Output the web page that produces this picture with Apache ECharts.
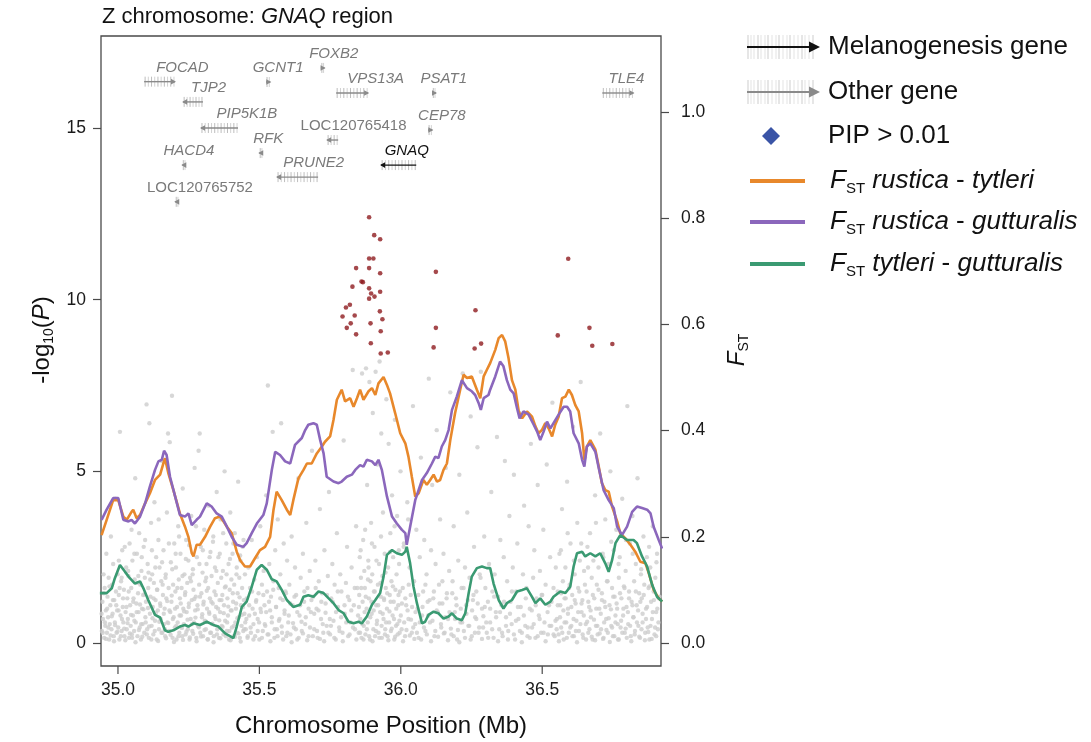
<!DOCTYPE html>
<html><head><meta charset="utf-8">
<script src="https://cdn.jsdelivr.net/npm/echarts@6/dist/echarts.min.js"></script>
<style>html,body{margin:0;padding:0;background:#fff}#c{width:1091px;height:742px}</style>
</head><body><div id="c"></div>
<script>
const FONT = '"Liberation Sans", Arial, Helvetica, sans-serif';
const xTicks = [35.0, 35.5, 36.0, 36.5];
const yLeftTicks = [0, 5, 10, 15];
const yRightTicks = [0, 0.2, 0.4, 0.6, 0.8, 1.0];

const fstRusticaTytleri = [[34.942,0.203],[34.960,0.232],[34.983,0.269],[35.001,0.269],[35.019,0.238],[35.031,0.232],[35.048,0.247],[35.054,0.251],[35.066,0.235],[35.078,0.241],[35.096,0.263],[35.113,0.282],[35.131,0.307],[35.149,0.317],[35.166,0.348],[35.178,0.320],[35.196,0.288],[35.219,0.244],[35.237,0.219],[35.249,0.200],[35.261,0.169],[35.267,0.163],[35.278,0.185],[35.290,0.185],[35.308,0.200],[35.326,0.219],[35.343,0.235],[35.361,0.238],[35.373,0.229],[35.385,0.219],[35.402,0.207],[35.420,0.172],[35.432,0.156],[35.449,0.144],[35.467,0.144],[35.485,0.160],[35.502,0.175],[35.520,0.181],[35.538,0.200],[35.550,0.251],[35.561,0.285],[35.579,0.269],[35.597,0.251],[35.609,0.241],[35.620,0.269],[35.638,0.310],[35.656,0.326],[35.668,0.338],[35.685,0.338],[35.703,0.357],[35.721,0.370],[35.732,0.379],[35.750,0.389],[35.762,0.420],[35.774,0.458],[35.791,0.477],[35.803,0.455],[35.821,0.461],[35.833,0.445],[35.845,0.461],[35.856,0.477],[35.868,0.458],[35.886,0.474],[35.898,0.480],[35.910,0.467],[35.921,0.489],[35.939,0.501],[35.951,0.486],[35.962,0.470],[35.980,0.433],[35.998,0.395],[36.016,0.376],[36.027,0.351],[36.039,0.313],[36.051,0.276],[36.063,0.282],[36.080,0.307],[36.092,0.298],[36.104,0.307],[36.116,0.317],[36.128,0.304],[36.139,0.307],[36.151,0.326],[36.163,0.338],[36.175,0.382],[36.192,0.433],[36.210,0.477],[36.222,0.505],[36.234,0.499],[36.251,0.502],[36.269,0.477],[36.281,0.461],[36.293,0.502],[36.304,0.514],[36.316,0.527],[36.334,0.552],[36.346,0.574],[36.358,0.580],[36.369,0.568],[36.381,0.536],[36.393,0.495],[36.405,0.477],[36.417,0.436],[36.429,0.423],[36.446,0.436],[36.464,0.426],[36.476,0.408],[36.487,0.395],[36.499,0.401],[36.511,0.414],[36.523,0.404],[36.535,0.389],[36.546,0.411],[36.558,0.426],[36.570,0.461],[36.582,0.464],[36.594,0.477],[36.605,0.467],[36.617,0.448],[36.629,0.436],[36.641,0.395],[36.649,0.345],[36.658,0.370],[36.670,0.382],[36.688,0.364],[36.700,0.332],[36.711,0.301],[36.723,0.288],[36.735,0.285],[36.747,0.257],[36.765,0.229],[36.776,0.207],[36.794,0.197],[36.812,0.185],[36.829,0.172],[36.847,0.153],[36.865,0.150],[36.877,0.131],[36.894,0.100],[36.912,0.084],[36.924,0.078]];

const fstRusticaGutturalis = [[34.942,0.232],[34.960,0.251],[34.983,0.273],[35.001,0.273],[35.019,0.232],[35.037,0.229],[35.048,0.232],[35.060,0.225],[35.078,0.238],[35.096,0.263],[35.113,0.295],[35.131,0.326],[35.143,0.342],[35.155,0.345],[35.163,0.362],[35.172,0.354],[35.184,0.313],[35.202,0.276],[35.219,0.241],[35.237,0.238],[35.249,0.244],[35.261,0.222],[35.278,0.232],[35.290,0.238],[35.314,0.263],[35.331,0.257],[35.349,0.244],[35.367,0.238],[35.385,0.219],[35.402,0.200],[35.420,0.185],[35.443,0.181],[35.455,0.188],[35.473,0.207],[35.491,0.225],[35.514,0.241],[35.526,0.263],[35.544,0.326],[35.556,0.360],[35.573,0.354],[35.591,0.342],[35.609,0.338],[35.626,0.373],[35.650,0.386],[35.662,0.401],[35.673,0.411],[35.691,0.414],[35.703,0.411],[35.715,0.382],[35.727,0.357],[35.738,0.313],[35.762,0.304],[35.780,0.301],[35.791,0.304],[35.809,0.313],[35.827,0.317],[35.839,0.326],[35.856,0.335],[35.868,0.332],[35.880,0.345],[35.898,0.342],[35.910,0.335],[35.921,0.345],[35.933,0.326],[35.951,0.276],[35.969,0.238],[35.986,0.225],[36.004,0.213],[36.016,0.207],[36.021,0.185],[36.033,0.219],[36.051,0.269],[36.075,0.307],[36.092,0.320],[36.110,0.338],[36.122,0.351],[36.133,0.348],[36.145,0.370],[36.157,0.382],[36.169,0.401],[36.181,0.439],[36.198,0.464],[36.216,0.495],[36.234,0.480],[36.251,0.474],[36.263,0.467],[36.275,0.452],[36.283,0.439],[36.293,0.461],[36.310,0.467],[36.316,0.477],[36.334,0.502],[36.351,0.530],[36.363,0.521],[36.375,0.495],[36.387,0.477],[36.399,0.470],[36.411,0.442],[36.420,0.423],[36.434,0.436],[36.452,0.430],[36.470,0.411],[36.482,0.398],[36.493,0.382],[36.505,0.398],[36.517,0.417],[36.529,0.404],[36.540,0.414],[36.558,0.430],[36.576,0.445],[36.588,0.445],[36.599,0.436],[36.611,0.395],[36.629,0.376],[36.641,0.345],[36.649,0.332],[36.658,0.370],[36.670,0.376],[36.688,0.360],[36.700,0.329],[36.717,0.288],[36.735,0.269],[36.753,0.254],[36.765,0.219],[36.782,0.203],[36.800,0.219],[36.818,0.247],[36.835,0.257],[36.853,0.254],[36.871,0.251],[36.883,0.244],[36.894,0.219],[36.912,0.194],[36.924,0.178]];

const fstTytleriGutturalis = [[34.936,0.094],[34.960,0.094],[34.978,0.103],[34.989,0.122],[35.007,0.147],[35.025,0.134],[35.042,0.122],[35.060,0.112],[35.078,0.116],[35.090,0.103],[35.107,0.081],[35.131,0.053],[35.149,0.048],[35.166,0.024],[35.178,0.021],[35.196,0.024],[35.219,0.031],[35.237,0.034],[35.249,0.031],[35.267,0.037],[35.290,0.034],[35.314,0.040],[35.337,0.034],[35.355,0.031],[35.379,0.018],[35.396,0.013],[35.408,0.009],[35.420,0.031],[35.438,0.068],[35.455,0.078],[35.473,0.106],[35.491,0.138],[35.508,0.147],[35.526,0.138],[35.544,0.120],[35.561,0.116],[35.579,0.100],[35.597,0.081],[35.620,0.068],[35.644,0.072],[35.656,0.087],[35.673,0.090],[35.691,0.087],[35.709,0.097],[35.727,0.094],[35.745,0.084],[35.762,0.075],[35.780,0.062],[35.798,0.056],[35.815,0.040],[35.833,0.037],[35.851,0.040],[35.862,0.037],[35.880,0.050],[35.898,0.072],[35.910,0.081],[35.927,0.094],[35.939,0.125],[35.951,0.166],[35.969,0.175],[35.986,0.169],[36.004,0.166],[36.016,0.172],[36.021,0.181],[36.033,0.150],[36.045,0.106],[36.057,0.075],[36.075,0.037],[36.086,0.040],[36.098,0.053],[36.116,0.059],[36.133,0.056],[36.151,0.046],[36.169,0.050],[36.181,0.056],[36.198,0.046],[36.216,0.043],[36.228,0.056],[36.240,0.094],[36.251,0.125],[36.269,0.141],[36.287,0.144],[36.304,0.141],[36.316,0.141],[36.328,0.112],[36.346,0.081],[36.363,0.065],[36.375,0.075],[36.393,0.081],[36.411,0.097],[36.429,0.100],[36.446,0.103],[36.464,0.087],[36.476,0.075],[36.493,0.084],[36.511,0.072],[36.529,0.078],[36.540,0.087],[36.564,0.097],[36.582,0.094],[36.599,0.106],[36.611,0.144],[36.623,0.169],[36.641,0.172],[36.652,0.163],[36.670,0.169],[36.688,0.163],[36.705,0.169],[36.723,0.150],[36.735,0.134],[36.747,0.156],[36.759,0.188],[36.776,0.203],[36.800,0.194],[36.823,0.194],[36.835,0.188],[36.853,0.163],[36.871,0.144],[36.889,0.109],[36.906,0.087],[36.924,0.078]];

const snpPip = [[35.888,12.40],[35.906,11.88],[35.927,11.76],[35.888,11.20],[35.903,11.20],[35.842,10.92],[35.888,10.92],[35.927,10.77],[35.861,10.53],[35.866,10.51],[35.829,10.38],[35.888,10.33],[35.927,10.23],[35.895,10.18],[35.907,10.09],[35.888,10.03],[35.806,9.77],[35.820,9.85],[35.794,9.51],[35.837,9.54],[35.926,9.66],[35.935,9.43],[35.823,9.31],[35.809,9.18],[35.893,9.31],[35.842,8.99],[35.929,9.08],[35.894,8.73],[35.929,8.43],[35.954,8.46],[36.124,10.81],[36.124,9.18],[36.116,8.61],[36.264,9.69],[36.261,8.58],[36.284,8.72],[36.592,11.19],[36.555,8.96],[36.667,9.18],[36.677,8.66],[36.748,8.71]];

const snpOther = [[34.943,0.35],[34.945,1.2],[34.947,0.7],[34.949,2.0],[34.951,0.15],[34.953,1.6],[34.955,0.5],[34.957,0.95],[34.959,2.6],[34.961,0.3],[34.963,1.35],[34.965,0.75],[34.967,1.9],[34.969,0.1],[34.971,0.55],[34.973,1.1],[34.975,3.1],[34.977,0.4],[34.979,1.7],[34.981,0.85],[34.983,2.3],[34.985,0.2],[34.987,1.25],[34.989,0.6],[34.991,4.2],[34.993,1.5],[34.995,0.3],[34.997,0.95],[34.999,2.0],[35.001,0.45],[35.003,1.4],[35.005,0.1],[35.007,6.15],[35.009,0.8],[35.011,1.8],[35.013,0.35],[35.015,2.7],[35.017,1.05],[35.019,0.6],[35.021,1.55],[35.023,0.2],[35.025,3.6],[35.027,0.9],[35.029,2.2],[35.031,0.4],[35.033,1.3],[35.035,0.7],[35.037,1.95],[35.039,0.15],[35.041,2.9],[35.043,1.1],[35.045,0.5],[35.047,1.6],[35.049,0.25],
[35.051,2.4],[35.053,0.8],[35.055,1.3],[35.057,0.35],[35.059,1.85],[35.061,4.8],[35.063,0.6],[35.065,1.15],[35.067,2.6],[35.069,0.2],[35.071,1.45],[35.073,0.9],[35.075,3.2],[35.077,0.45],[35.079,1.7],[35.081,0.1],[35.083,2.1],[35.085,1.0],[35.087,0.55],[35.089,1.4],[35.091,2.8],[35.093,0.3],[35.095,1.9],[35.097,0.75],[35.099,1.2],[35.101,6.95],[35.103,0.4],[35.105,2.3],[35.107,1.6],[35.109,0.15],[35.111,6.4],[35.113,0.85],[35.115,1.35],[35.117,3.5],[35.119,0.5],[35.121,2.0],[35.123,1.05],[35.125,0.25],[35.127,1.75],[35.129,4.1],[35.131,0.65],[35.133,1.25],[35.135,2.5],[35.137,0.1],[35.139,1.55],[35.141,0.95],[35.143,3.0],[35.145,0.4],[35.147,2.2],[35.149,1.15],[35.151,0.7],[35.153,1.8],[35.155,5.3],[35.157,0.3],[35.159,1.4],[35.161,2.7],[35.163,0.55],[35.165,1.0],[35.167,0.2],[35.169,2.0],[35.171,1.3],[35.173,3.8],[35.175,0.6],[35.177,6.1],[35.179,1.6],[35.181,0.35],[35.183,5.85],[35.185,0.9],[35.187,2.35],[35.189,1.2],[35.191,7.2],[35.193,0.15],[35.195,1.7],[35.197,0.75],[35.199,2.9],
[35.201,0.45],[35.203,1.5],[35.205,2.2],[35.207,0.1],[35.209,1.05],[35.211,0.6],[35.213,3.4],[35.215,1.85],[35.217,0.3],[35.219,1.3],[35.221,2.6],[35.223,0.8],[35.225,1.6],[35.227,0.2],[35.229,4.5],[35.231,1.0],[35.233,0.55],[35.235,2.0],[35.237,1.4],[35.239,0.25],[35.241,3.0],[35.243,0.9],[35.245,1.75],[35.247,0.4],[35.249,2.4],[35.251,1.15],[35.253,0.1],[35.255,1.9],[35.257,0.7],[35.259,3.7],[35.261,1.25],[35.263,0.35],[35.265,2.15],[35.267,1.55],[35.269,0.6],[35.271,5.1],[35.273,0.95],[35.275,1.35],[35.277,0.15],[35.279,2.5],[35.281,1.1],[35.283,0.5],[35.285,5.6],[35.287,1.7],[35.289,6.1],[35.291,0.3],[35.293,2.8],[35.295,1.45],[35.297,0.75],[35.299,2.05],[35.301,0.2],[35.303,1.2],[35.305,3.3],[35.307,0.65],[35.309,1.8],[35.311,0.4],[35.313,2.3],[35.315,1.0],[35.317,0.1],[35.319,1.6],[35.321,4.0],[35.323,0.85],[35.325,1.3],[35.327,2.65],[35.329,0.3],[35.331,1.95],[35.333,0.55],[35.335,1.15],[35.337,3.1],[35.339,0.2],[35.341,1.5],[35.343,2.2],[35.345,0.7],[35.347,1.05],[35.349,4.4],[35.351,0.4],[35.353,1.75],[35.355,2.5],[35.357,0.15],[35.359,1.25],[35.361,0.9],[35.363,3.6],[35.365,1.9],[35.367,0.5],[35.369,1.4],[35.371,2.1],[35.373,0.25],[35.375,1.1],[35.377,5.0],[35.379,0.65],[35.381,1.65],[35.383,2.9],[35.385,0.35],[35.387,1.3],[35.389,0.8],[35.391,2.3],[35.393,0.1],[35.395,1.55],[35.397,3.8],[35.399,0.95],[35.401,1.85],[35.403,0.45],[35.405,2.6],[35.407,1.2],[35.409,0.2],[35.411,1.7],[35.413,3.2],[35.415,0.6],[35.417,1.0],[35.419,2.0],[35.421,0.3],[35.423,1.45],[35.425,4.7],[35.427,0.75],[35.429,1.9],[35.431,0.15],[35.433,2.4],[35.435,1.1],[35.437,0.5],[35.439,1.6],[35.441,2.8],[35.443,0.35],[35.445,1.25],[35.447,0.85],[35.449,2.0],
[35.452,0.4],[35.455,1.3],[35.458,0.15],[35.461,2.2],[35.464,0.8],[35.467,1.6],[35.47,0.3],[35.473,3.0],[35.476,1.0],[35.479,0.55],[35.482,1.85],[35.485,0.2],[35.488,1.2],[35.491,2.5],[35.494,0.7],[35.497,1.45],[35.5,0.1],[35.503,3.4],[35.506,0.9],[35.509,1.7],[35.512,0.35],[35.515,2.1],[35.518,1.1],[35.521,0.5],[35.524,4.3],[35.527,1.5],[35.53,7.5],[35.532,0.25],[35.535,2.3],[35.538,0.95],[35.541,1.35],[35.544,0.6],[35.547,6.15],[35.55,1.8],[35.553,0.15],[35.556,2.7],[35.559,1.05],[35.562,0.4],[35.565,3.6],[35.568,1.6],[35.571,0.7],[35.574,2.0],[35.577,6.4],[35.58,0.3],[35.583,1.25],[35.586,2.9],[35.589,0.85],[35.592,1.5],[35.595,0.2],[35.598,2.4],
[35.602,0.6],[35.606,1.7],[35.61,0.25],[35.614,3.1],[35.618,1.1],[35.622,0.45],[35.626,2.2],[35.63,1.4],[35.634,0.1],[35.638,4.8],[35.642,0.8],[35.646,1.9],[35.65,0.35],[35.654,2.6],[35.658,1.2],[35.662,0.55],[35.666,3.5],[35.67,1.6],[35.674,0.2],[35.678,2.1],[35.682,0.9],[35.686,5.6],[35.69,1.35],[35.694,0.4],[35.698,2.4],[35.702,1.0],[35.706,0.15],[35.71,1.8],[35.714,3.9],[35.718,0.7],[35.722,1.45],[35.726,0.3],[35.73,2.7],[35.734,1.15],[35.738,0.5],[35.742,1.95],[35.746,4.4],[35.75,0.25],[35.754,1.3],[35.758,2.3],[35.762,0.65],[35.766,1.7],[35.77,0.1],[35.774,3.2],[35.778,1.05],[35.782,0.45],[35.786,2.0],[35.79,1.5],[35.794,0.3],[35.798,5.9],[35.802,0.85],[35.806,1.75],[35.81,2.8],[35.814,0.2],[35.818,1.25],[35.822,0.6],[35.826,2.2],[35.83,7.95],[35.834,1.1],[35.838,0.4],[35.842,3.4],[35.846,1.6],
[35.851,0.3],[35.853,1.4],[35.855,2.5],[35.857,0.7],[35.859,1.9],[35.861,0.15],[35.863,7.85],[35.865,1.2],[35.867,3.0],[35.869,0.5],[35.871,2.1],[35.873,1.6],[35.875,0.25],[35.877,8.0],[35.879,1.0],[35.881,4.6],[35.883,0.6],[35.885,2.4],[35.887,1.3],[35.889,7.6],[35.891,0.1],[35.893,1.8],[35.895,3.5],[35.897,0.85],[35.899,2.0],[35.901,6.7],[35.903,0.4],[35.905,1.5],[35.907,2.8],[35.909,0.2],[35.911,7.9],[35.913,1.1],[35.915,0.55],[35.917,5.2],[35.919,1.7],[35.921,0.3],[35.923,2.3],[35.925,8.2],[35.927,0.9],[35.929,1.35],[35.931,6.1],[35.933,0.15],[35.935,1.95],[35.937,3.8],[35.939,0.7],[35.941,1.25],[35.943,2.6],[35.945,0.4],[35.947,1.6],[35.949,7.1],[35.951,1.0],[35.953,0.2],[35.955,2.2],[35.957,5.8],[35.959,0.6],[35.961,1.4],[35.963,3.2],[35.965,0.35],[35.967,1.8],[35.969,4.3],[35.971,0.8],[35.973,2.5],[35.975,1.2],[35.977,0.1],[35.979,6.5],[35.981,1.55],[35.983,0.5],[35.985,2.0],[35.987,3.7],[35.989,0.25],[35.991,1.1],[35.993,2.7],[35.995,0.65],[35.997,1.5],[35.999,5.0],
[36.003,0.4],[36.007,1.6],[36.011,2.9],[36.015,0.2],[36.019,1.1],[36.023,4.1],[36.027,0.7],[36.031,2.2],[36.035,1.4],[36.039,0.3],[36.043,6.9],[36.047,1.8],[36.051,0.55],[36.055,3.3],[36.059,1.0],[36.063,0.15],[36.067,2.5],[36.071,5.4],[36.075,0.8],[36.079,1.5],[36.083,3.0],[36.087,0.35],[36.091,2.0],[36.095,1.2],[36.099,7.7],[36.103,0.6],[36.107,2.7],[36.111,4.6],[36.115,1.3],[36.119,0.2],[36.123,2.3],[36.127,6.2],[36.131,0.9],[36.135,1.7],[36.139,3.6],[36.143,0.45],[36.147,1.15],[36.151,2.6],[36.155,0.3],[36.159,5.1],[36.163,1.45],[36.167,0.7],[36.171,2.1],[36.175,7.3],[36.179,0.25],[36.183,1.8],[36.187,3.4],[36.191,0.9],[36.195,1.3],[36.199,0.1],[36.203,2.4],[36.207,4.9],[36.211,0.6],[36.215,1.6],[36.219,7.85],[36.223,0.35],[36.227,2.2],[36.231,1.1],[36.235,3.8],[36.239,0.5],[36.243,1.9],[36.247,6.6],[36.251,0.2],[36.255,1.25],[36.259,2.8],[36.263,0.75],[36.267,1.5],[36.271,5.7],[36.275,0.3],[36.279,2.0],[36.283,7.9],[36.287,1.0],[36.291,0.45],[36.295,3.1],[36.299,1.6],
[36.304,0.3],[36.308,1.2],[36.312,2.3],[36.316,0.6],[36.32,4.4],[36.324,1.5],[36.328,0.15],[36.332,2.0],[36.336,0.9],[36.34,6.0],[36.344,1.35],[36.348,0.4],[36.352,3.0],[36.356,1.1],[36.36,0.2],[36.364,2.5],[36.368,5.3],[36.372,0.75],[36.376,1.8],[36.38,0.35],[36.384,3.7],[36.388,1.2],[36.392,0.55],[36.396,2.2],[36.4,4.9],[36.404,0.1],[36.408,1.5],[36.412,2.9],[36.416,0.7],[36.42,6.7],[36.424,1.05],[36.428,0.3],[36.432,2.0],[36.436,4.0],[36.44,0.5],[36.444,1.6],[36.448,0.2],[36.452,3.4],[36.456,1.0],[36.46,5.8],[36.464,0.45],[36.468,1.9],[36.472,2.7],[36.476,0.15],[36.48,1.3],[36.484,4.6],[36.488,0.8],[36.492,2.1],[36.496,0.3],[36.5,1.4],[36.504,3.3],[36.508,0.6],[36.512,1.7],[36.516,5.2],[36.52,0.25],[36.524,1.1],[36.528,2.5],[36.532,0.5],[36.536,7.0],[36.54,1.6],[36.544,0.2],[36.548,2.2],
[36.552,0.7],[36.555,1.5],[36.558,0.25],[36.561,2.6],[36.564,1.1],[36.567,0.45],[36.57,3.9],[36.573,1.8],[36.576,0.1],[36.579,1.3],[36.582,2.2],[36.585,0.6],[36.588,4.7],[36.591,1.0],[36.594,0.3],[36.597,1.7],[36.6,2.9],[36.603,0.5],[36.606,1.4],[36.609,6.3],[36.612,0.2],[36.615,2.0],[36.618,1.15],[36.621,0.65],[36.624,3.5],[36.627,1.6],[36.63,0.35],[36.633,2.4],[36.636,7.6],[36.639,0.9],[36.642,1.25],[36.645,0.15],[36.648,2.1],[36.651,5.4],[36.654,0.55],[36.657,1.5],[36.66,2.8],[36.663,0.3],[36.666,1.05],[36.669,3.2],[36.672,0.75],[36.675,1.9],[36.678,0.1],[36.681,2.4],[36.684,1.3],[36.687,4.3],[36.69,0.5],[36.693,1.7],[36.696,0.25],[36.699,2.2],[36.702,1.0],[36.705,6.1],[36.708,0.4],[36.711,1.45],[36.714,2.6],[36.717,0.15],[36.72,1.2],[36.723,3.6],[36.726,0.7],[36.729,1.8],[36.732,0.3],[36.735,2.3],[36.738,1.1],[36.741,5.0],[36.744,0.5],[36.747,1.6],[36.75,0.2],[36.753,2.7],[36.756,1.35],[36.759,0.6],[36.762,3.3],[36.765,1.0],[36.768,0.1],[36.771,1.9],[36.774,2.5],[36.777,0.45],[36.78,1.3],[36.783,4.2],[36.786,0.8],[36.789,1.65],[36.792,0.3],[36.795,2.1],[36.798,1.05],[36.801,6.9],[36.804,0.55],[36.807,1.5],[36.81,2.9],[36.813,0.2],[36.816,1.2],[36.819,3.7],[36.822,0.75],[36.825,1.8],[36.828,0.35],[36.831,2.3],[36.834,1.1],[36.837,4.8],[36.84,0.5],[36.843,1.45],[36.846,0.15],[36.849,2.0],[36.852,1.3],[36.855,0.6],[36.858,3.1],[36.861,1.7],[36.864,0.3],[36.867,1.0],[36.87,2.5],[36.873,0.45],[36.876,1.6],[36.879,0.1],[36.882,2.2],[36.885,1.2],[36.888,0.7],[36.891,3.4],[36.894,1.5],[36.897,0.25],[36.9,1.9],[36.903,0.9],[36.906,2.6],[36.909,0.4],[36.912,1.3]];

const snpOtherDense = [[34.942,0.85],[34.946,0.3],[34.95,1.45],[34.954,0.6],[34.958,0.12],[34.962,1.0],[34.966,0.45],[34.97,1.65],[34.974,0.22],[34.978,0.78],[34.982,1.25],[34.986,0.05],[34.99,0.52],[34.994,1.1],[34.998,0.33],[35.002,0.95],[35.006,1.6],[35.01,0.2],[35.014,0.7],[35.018,1.3],[35.022,0.42],[35.026,0.08],[35.03,1.05],[35.034,0.58],[35.038,1.5],[35.042,0.28],[35.046,0.82],[35.05,0.15],[35.054,1.2],[35.058,0.65],[35.062,0.02],[35.066,0.9],[35.07,1.75],[35.074,0.38],[35.078,1.12],[35.082,0.55],[35.086,0.18],[35.09,0.98],[35.094,1.42],[35.098,0.6],[35.102,0.25],[35.106,1.02],[35.11,0.48],[35.114,1.85],[35.118,0.1],[35.122,0.72],[35.126,1.3],[35.13,0.35],[35.134,0.88],[35.138,1.55],[35.142,0.06],[35.146,0.62],[35.15,1.08],[35.154,0.3],[35.158,1.7],[35.162,0.85],[35.166,0.4],[35.17,0.14],[35.174,1.22],[35.178,0.58],[35.182,0.95],[35.186,0.24],[35.19,1.38],[35.194,0.7],[35.198,0.03],[35.202,1.0],[35.206,0.5],[35.21,1.6],[35.214,0.2],[35.218,0.8],[35.222,1.15],[35.226,0.44],[35.23,0.09],[35.234,0.92],[35.238,1.48],[35.242,0.33],[35.246,0.68],[35.25,1.05],[35.254,0.16],[35.258,1.8],[35.262,0.55],[35.266,0.27],[35.27,1.28],[35.274,0.74],[35.278,0.05],[35.282,0.98],[35.286,0.46],[35.29,1.35],[35.294,0.19],[35.298,0.84],[35.302,1.12],[35.306,0.38],[35.31,0.63],[35.314,1.52],[35.318,0.11],[35.322,0.9],[35.326,0.3],[35.33,1.2],[35.334,0.56],[35.338,0.02],[35.342,0.78],[35.346,1.4],[35.35,0.25],[35.354,1.0],[35.358,0.66],[35.362,0.14],[35.366,1.25],[35.37,0.47],[35.374,0.87],[35.378,1.62],[35.382,0.2],[35.386,0.6],[35.39,1.06],[35.394,0.35],[35.398,0.08],[35.402,0.95],[35.406,1.45],[35.41,0.5],[35.414,0.18],[35.418,1.15],[35.422,0.72],[35.426,0.28],[35.43,1.33],[35.434,0.04],[35.438,0.82],[35.442,1.05],[35.446,0.4],[35.45,0.6],
[35.003,2.4],[35.013,1.9],[35.024,2.8],[35.036,2.1],[35.048,3.3],[35.058,2.6],[35.072,1.95],[35.084,2.5],[35.096,3.0],[35.108,2.05],[35.12,2.7],[35.132,2.2],[35.144,3.6],[35.156,2.35],[35.168,1.9],[35.18,2.9],[35.192,2.15],[35.204,2.6],[35.216,3.1],[35.228,1.95],[35.24,2.45],[35.252,2.85],[35.264,2.0],[35.276,3.4],[35.288,2.3],[35.3,2.7],[35.312,1.9],[35.324,2.5],[35.336,2.95],[35.348,2.1],[35.36,2.6],[35.372,3.2],[35.384,2.0],[35.396,2.45],[35.408,2.9],[35.42,2.2],[35.432,2.55],[35.444,3.0],
[35.454,0.7],[35.459,0.2],[35.464,1.1],[35.469,0.45],[35.474,1.5],[35.479,0.1],[35.484,0.85],[35.489,1.25],[35.494,0.35],[35.499,0.6],[35.504,1.0],[35.509,0.15],[35.514,1.4],[35.519,0.55],[35.524,0.9],[35.529,0.25],[35.534,1.2],[35.539,0.05],[35.544,0.75],[35.549,1.55],[35.554,0.4],[35.559,1.05],[35.564,0.2],[35.569,0.65],[35.574,1.3],[35.579,0.48],[35.584,0.1],[35.589,0.95],[35.594,1.45],[35.599,0.3],[35.604,0.8],[35.609,1.15],[35.614,0.02],[35.619,0.58],[35.624,1.35],[35.629,0.4],[35.634,0.9],[35.639,0.15],[35.644,1.1],[35.649,0.62],[35.654,0.28],[35.659,1.5],[35.664,0.75],[35.669,0.08],[35.674,1.0],[35.679,0.45],[35.684,1.25],[35.689,0.2],[35.694,0.85],[35.699,1.6],[35.704,0.35],[35.709,0.95],[35.714,0.12],[35.719,1.2],[35.724,0.55],[35.729,0.05],[35.734,0.88],[35.739,1.4],[35.744,0.3],[35.749,0.7],
[35.753,0.5],[35.759,1.2],[35.765,0.15],[35.771,0.9],[35.777,1.5],[35.783,0.35],[35.789,0.75],[35.795,0.05],[35.801,1.1],[35.807,0.6],[35.813,1.35],[35.819,0.25],[35.825,0.95],[35.831,0.45],[35.837,1.6],[35.843,0.1],[35.849,0.8],
[35.852,1.05],[35.856,0.3],[35.86,1.6],[35.864,0.55],[35.868,0.1],[35.872,0.9],[35.876,1.35],[35.88,0.4],[35.884,1.85],[35.888,0.2],[35.892,0.75],[35.896,1.2],[35.9,0.05],[35.904,0.95],[35.908,1.5],[35.912,0.35],[35.916,0.65],[35.92,1.1],[35.924,0.15],[35.928,1.75],[35.932,0.5],[35.936,0.85],[35.94,1.3],[35.944,0.25],[35.948,0.6],[35.952,1.45],[35.956,0.08],[35.96,0.92],[35.964,1.2],[35.968,0.42],[35.972,1.65],[35.976,0.7],[35.98,0.18],[35.984,1.0],[35.988,0.55],[35.992,1.4],[35.996,0.3],[36.0,0.8],[36.004,1.15],[36.008,0.05],[36.012,0.6],[36.016,1.3],[36.02,0.38],[36.024,0.95],[36.028,1.7],[36.032,0.22],[36.036,0.68],[36.04,1.05],[36.044,0.45],[36.048,0.12],
[35.858,2.7],[35.874,3.3],[35.886,2.2],[35.898,2.9],[35.914,2.4],[35.93,3.1],[35.946,2.05],[35.962,2.65],[35.978,3.4],[35.994,2.3],[36.01,2.8],[36.026,3.6],
[36.052,0.9],[36.057,0.3],[36.062,1.4],[36.067,0.6],[36.072,0.1],[36.077,1.05],[36.082,0.45],[36.087,1.7],[36.092,0.25],[36.097,0.8],[36.102,1.25],[36.107,0.05],[36.112,0.65],[36.117,1.5],[36.122,0.35],[36.127,0.95],[36.132,0.18],[36.137,1.15],[36.142,0.55],[36.147,1.8],[36.152,0.28],[36.157,0.75],[36.162,1.3],[36.167,0.08],[36.172,0.9],[36.177,0.42],[36.182,1.45],[36.187,0.2],[36.192,0.7],[36.197,1.1],[36.202,0.38],[36.207,0.02],[36.212,1.0],[36.217,0.6],[36.222,1.6],[36.227,0.15],[36.232,0.85],[36.237,1.25],[36.242,0.5],[36.247,0.1],[36.252,0.95],[36.257,1.4],[36.262,0.3],[36.267,0.7],[36.272,1.15],[36.277,0.45],[36.282,1.9],[36.287,0.12],[36.292,0.78],[36.297,1.05],
[36.302,0.6],[36.309,0.15],[36.316,1.0],[36.323,0.4],[36.33,1.35],[36.337,0.75],[36.344,0.05],[36.351,0.9],[36.358,0.3],[36.365,1.2],[36.372,0.5],[36.379,0.1],[36.386,0.85],[36.393,1.5],[36.4,0.25],[36.407,0.65],[36.414,1.05],[36.421,0.35],[36.428,0.02],[36.435,0.8],[36.442,1.3],[36.449,0.45],[36.456,0.15],[36.463,0.95],[36.47,0.55],[36.477,1.1],[36.484,0.2],[36.491,0.7],[36.498,1.4],[36.505,0.3],[36.512,0.05],[36.519,0.9],[36.526,0.5],[36.533,1.2],[36.54,0.25],[36.547,0.65],
[36.551,0.4],[36.555,1.1],[36.559,0.05],[36.563,0.75],[36.567,1.45],[36.571,0.3],[36.575,0.95],[36.579,0.6],[36.583,1.3],[36.587,0.15],[36.591,0.85],[36.595,1.6],[36.599,0.45],[36.603,1.05],[36.607,0.2],[36.611,0.7],[36.615,1.25],[36.619,0.35],[36.623,0.02],[36.627,0.9],[36.631,1.5],[36.635,0.55],[36.639,1.15],[36.643,0.25],[36.647,0.8],[36.651,1.7],[36.655,0.1],[36.659,0.62],[36.663,1.2],[36.667,0.4],[36.671,0.95],[36.675,0.18],[36.679,1.4],[36.683,0.68],[36.687,0.08],[36.691,1.0],[36.695,0.5],[36.699,1.55],[36.703,0.28],[36.707,0.85],[36.711,1.25],[36.715,0.12],[36.719,0.6],[36.723,1.05],[36.727,0.38],[36.731,1.8],[36.735,0.72],[36.739,0.03],[36.743,0.98],[36.747,0.45],[36.751,1.35],[36.755,0.2],[36.759,0.8],[36.763,1.15],[36.767,0.55],[36.771,0.1],[36.775,1.45],[36.779,0.65],[36.783,0.3],[36.787,1.0],[36.791,1.6],[36.795,0.42],[36.799,0.15],[36.803,0.9],[36.807,1.3],[36.811,0.5],[36.815,0.05],[36.819,1.1],[36.823,0.75],[36.827,0.25],[36.831,1.5],[36.835,0.6],[36.839,0.95],[36.843,0.18],[36.847,1.2],[36.851,0.4],[36.855,0.85],[36.859,1.4],[36.863,0.08],[36.867,0.7],[36.871,1.05],[36.875,0.32],[36.879,1.65],[36.883,0.5],[36.887,0.12],[36.891,0.9],[36.895,1.25],[36.899,0.45],[36.903,0.2],[36.907,1.0],[36.911,0.6],[36.915,1.35],
[36.566,2.7],[36.59,3.2],[36.612,2.4],[36.638,2.9],[36.662,2.2],[36.69,3.5],[36.716,2.5],[36.744,2.95],[36.77,2.3],[36.796,3.0],[36.82,2.6],[36.85,2.15],[36.878,2.8],[36.904,2.35]];

// genes: name, start (Mb), end (Mb), track level (-log10 P units), strand, label centre (Mb)
const geneNames   = ['FOCAD','TJP2','GCNT1','FOXB2','VPS13A','PSAT1','TLE4','PIP5K1B','LOC120765418','CEP78','RFK','HACD4','GNAQ','PRUNE2','LOC120765752'];
const geneStart   = [35.096,35.234,35.527,35.721,35.775,36.115,36.716,35.297,35.743,36.100,35.503,35.231,35.934,35.566,35.206];
const geneEnd     = [35.198,35.297,35.535,35.727,35.881,36.121,36.819,35.421,35.775,36.108,35.509,35.237,36.051,35.704,35.212];
const geneLevel   = [16.35,15.76,16.34,16.75,16.02,16.02,16.02,15.00,14.65,14.94,14.27,13.92,13.92,13.57,12.85];
const geneStrand  = [1,-1,1,1,1,1,1,-1,-1,1,-1,-1,-1,-1,-1];
const geneLabelAt = [35.228,35.320,35.566,35.763,35.911,36.152,36.798,35.456,35.833,36.145,35.531,35.251,36.021,35.692,35.290];
const geneItalic  = [1,1,1,1,1,1,1,1,0,1,1,1,1,1,0];
const geneMelano  = [0,0,0,0,0,0,0,0,0,0,0,0,1,0,0];

const Y_MIN = -0.67, Y_MAX = 17.68;
const frameColor = '#4a4a4a';

function renderGene(params, api) {
  const i = params.dataIndex;
  const lvl = api.value(2);
  const a = api.coord([api.value(0), lvl]);
  const b = api.coord([api.value(1), lvl]);
  const lab = api.coord([api.value(4), lvl]);
  const dir = api.value(3);
  const mel = geneMelano[i] === 1;
  const col = mel ? '#111111' : '#8a8a8a';
  const kids = [];
  const w = b[0] - a[0];
  const n = Math.max(1, Math.round(w / 3.2));
  for (let k = 0; k <= n; k++) {
    const x = a[0] + w * k / n;
    kids.push({type: 'line', shape: {x1: x, y1: a[1] - 5, x2: x, y2: a[1] + 5},
      style: {stroke: k % 2 ? '#d2d2d2' : '#bdbdbd', lineWidth: 1}});
  }
  kids.push({type: 'line', shape: {x1: a[0] - 1, y1: a[1], x2: b[0] + 1, y2: b[1]},
    style: {stroke: col, lineWidth: 1.4}});
  const tip = dir > 0 ? b[0] + 2 : a[0] - 2;
  kids.push({type: 'polygon', shape: {points: [[tip - 5 * dir, a[1] - 2.8], [tip, a[1]], [tip - 5 * dir, a[1] + 2.8]]},
    style: {fill: col}});
  kids.push({type: 'text', style: {text: geneNames[i], x: lab[0], y: a[1] - 14, align: 'center', verticalAlign: 'middle',
    fill: mel ? '#111111' : '#7a7a7a', font: (geneItalic[i] ? 'italic ' : '') + '15px ' + FONT}});
  return {type: 'group', children: kids};
}

function renderXTick(params, api) {
  const p = api.coord([api.value(0), Y_MIN]);
  return {type: 'line', shape: {x1: p[0], y1: p[1], x2: p[0], y2: p[1] + 8},
    style: {stroke: frameColor, lineWidth: 1.2}};
}

const chart = echarts.init(document.getElementById('c'), null, {renderer: 'canvas'});

const tickLabelStyle = {fontSize: 17.5, color: '#1a1a1a', fontFamily: FONT};

function legendGeneIcon(y, col) {
  const offs = [0, 3, 6, 10, 13, 17, 20, 24, 28, 31, 35, 39, 42, 46, 50, 54, 57, 61, 65];
  const kids = offs.map((o, k) => ({type: 'line', shape: {x1: 748 + o, y1: y - 12, x2: 748 + o, y2: y + 12},
    style: {stroke: '#c8c8c8', lineWidth: 1, opacity: k % 3 === 0 ? 0.9 : 0.5}}));
  kids.push({type: 'line', shape: {x1: 747, y1: y, x2: 812, y2: y}, style: {stroke: col, lineWidth: 2.2}});
  kids.push({type: 'polygon', shape: {points: [[820, y], [809, y - 5.5], [809, y + 5.5]]}, style: {fill: col}});
  return kids;
}
const LFS = 26;
const richBase = {
  i: {fontStyle: 'italic', fontSize: LFS, fontFamily: FONT, lineHeight: 30, fill: '#111'},
  s: {fontSize: 15, fontFamily: FONT, lineHeight: 15, verticalAlign: 'bottom', fill: '#111'},
  n: {fontSize: LFS, fontFamily: FONT, lineHeight: 30, fill: '#111'}
};
const richAxis = {
  i: {fontStyle: 'italic', fontSize: 24, fontFamily: FONT, lineHeight: 28, fill: '#111'},
  s: {fontSize: 14, fontFamily: FONT, lineHeight: 14, verticalAlign: 'bottom', fill: '#111'},
  n: {fontSize: 24, fontFamily: FONT, lineHeight: 28, fill: '#111'}
};
function fstText(x, y, a, b) {
  return {type: 'text', x: x, y: y, style: {text: '{i|F}{s|ST} {i|' + a + '}{n| - }{i|' + b + '}', rich: richBase,
    fontSize: LFS, fontFamily: FONT, fill: '#111', verticalAlign: 'middle', align: 'left'}};
}

const option = {
  animation: false,
  backgroundColor: '#ffffff',
  grid: {left: 101, right: 430, top: 36, bottom: 76, show: true, borderColor: frameColor, borderWidth: 1.3, containLabel: false},
  xAxis: {
    type: 'value', min: 34.94, max: 36.92, position: 'bottom',
    axisLine: {show: false, onZero: false}, splitLine: {show: false},
    axisTick: {show: false},
    axisLabel: {show: true, margin: 15, customValues: xTicks, formatter: v => v.toFixed(1), ...tickLabelStyle}
  },
  yAxis: [
    {type: 'value', position: 'left', min: Y_MIN, max: Y_MAX,
     axisLine: {show: false, onZero: false}, splitLine: {show: false},
     axisTick: {show: true, inside: false, length: 8, customValues: yLeftTicks, lineStyle: {color: frameColor, width: 1.2}},
     axisLabel: {show: true, margin: 15, customValues: yLeftTicks, formatter: v => String(v), ...tickLabelStyle}},
    {type: 'value', position: 'right', min: -0.0433, max: 1.143,
     axisLine: {show: false, onZero: false}, splitLine: {show: false},
     axisTick: {show: true, inside: false, length: 8, customValues: yRightTicks, lineStyle: {color: frameColor, width: 1.2}},
     axisLabel: {show: true, margin: 20, customValues: yRightTicks, formatter: v => v.toFixed(1), ...tickLabelStyle}}
  ],
  series: [
    {name: 'SNP', type: 'scatter', yAxisIndex: 0, data: snpOther.concat(snpOtherDense), symbol: 'circle', symbolSize: 4.4,
     itemStyle: {color: '#cdcdcd'}, silent: true, z: 1},
    {name: 'FST rustica - tytleri', type: 'line', yAxisIndex: 1, data: fstRusticaTytleri, showSymbol: false, symbol: 'none',
     lineStyle: {color: '#E8882B', width: 2.6}, z: 3},
    {name: 'FST rustica - gutturalis', type: 'line', yAxisIndex: 1, data: fstRusticaGutturalis, showSymbol: false, symbol: 'none',
     lineStyle: {color: '#8B67BC', width: 2.6}, z: 4},
    {name: 'FST tytleri - gutturalis', type: 'line', yAxisIndex: 1, data: fstTytleriGutturalis, showSymbol: false, symbol: 'none',
     lineStyle: {color: '#3A9A72', width: 2.6}, z: 5},
    {name: 'PIP', type: 'scatter', yAxisIndex: 0, data: snpPip, symbol: 'circle', symbolSize: 4.6,
     itemStyle: {color: '#8E1B1F'}, z: 6},
    {name: 'genes', type: 'custom', yAxisIndex: 0, renderItem: renderGene, z: 7, silent: true,
     encode: {x: [0, 1], y: 2},
     data: geneNames.map((n, i) => [geneStart[i], geneEnd[i], geneLevel[i], geneStrand[i], geneLabelAt[i]])},
    {name: 'xticks', type: 'custom', yAxisIndex: 0, renderItem: renderXTick, clip: false, silent: true, z: 8,
     encode: {x: 0}, data: xTicks.map(v => [v])}
  ],
  graphic: [
    {type: 'text', left: 102, top: 6, style: {text: 'Z chromosome: {it|GNAQ} region', fontSize: 22, fontFamily: FONT, fill: '#111',
      rich: {it: {fontStyle: 'italic', fontSize: 22, fontFamily: FONT, fill: '#111'}}}},
    {type: 'text', x: 381, y: 726, style: {text: 'Chromosome Position (Mb)', fontSize: 24, fontFamily: FONT, fill: '#111',
      align: 'center', verticalAlign: 'middle'}},
    {type: 'text', x: 42, y: 340, rotation: Math.PI / 2, style: {text: '{n|-log}{s|10}{n|(}{i|P}{n|)}', rich: richAxis,
      fontSize: 24, fontFamily: FONT, fill: '#111', align: 'center', verticalAlign: 'middle'}},
    {type: 'text', x: 737, y: 350, rotation: Math.PI / 2, style: {text: '{i|F}{s|ST}', rich: richAxis,
      fontSize: 24, fontFamily: FONT, fill: '#111', align: 'center', verticalAlign: 'middle'}},
    {type: 'group', children: legendGeneIcon(47, '#111111')},
    {type: 'text', x: 828, y: 47, style: {text: 'Melanogenesis gene', fontSize: LFS, fontFamily: FONT, fill: '#111', verticalAlign: 'middle'}},
    {type: 'group', children: legendGeneIcon(92, '#8a8a8a')},
    {type: 'text', x: 828, y: 92, style: {text: 'Other gene', fontSize: LFS, fontFamily: FONT, fill: '#111', verticalAlign: 'middle'}},
    {type: 'polygon', shape: {points: [[771, 127], [780, 136], [771, 145], [762, 136]]}, style: {fill: '#3A54A6'}},
    {type: 'text', x: 828, y: 136, style: {text: 'PIP > 0.01', fontSize: LFS, fontFamily: FONT, fill: '#111', verticalAlign: 'middle'}},
    {type: 'line', shape: {x1: 750, y1: 181, x2: 805, y2: 181}, style: {stroke: '#E8882B', lineWidth: 4}},
    fstText(830, 181, 'rustica', 'tytleri'),
    {type: 'line', shape: {x1: 750, y1: 222, x2: 805, y2: 222}, style: {stroke: '#8B67BC', lineWidth: 4}},
    fstText(830, 222, 'rustica', 'gutturalis'),
    {type: 'line', shape: {x1: 750, y1: 264, x2: 805, y2: 264}, style: {stroke: '#3A9A72', lineWidth: 4}},
    fstText(830, 264, 'tytleri', 'gutturalis')
  ]
};
chart.setOption(option);
</script>
</body></html>
